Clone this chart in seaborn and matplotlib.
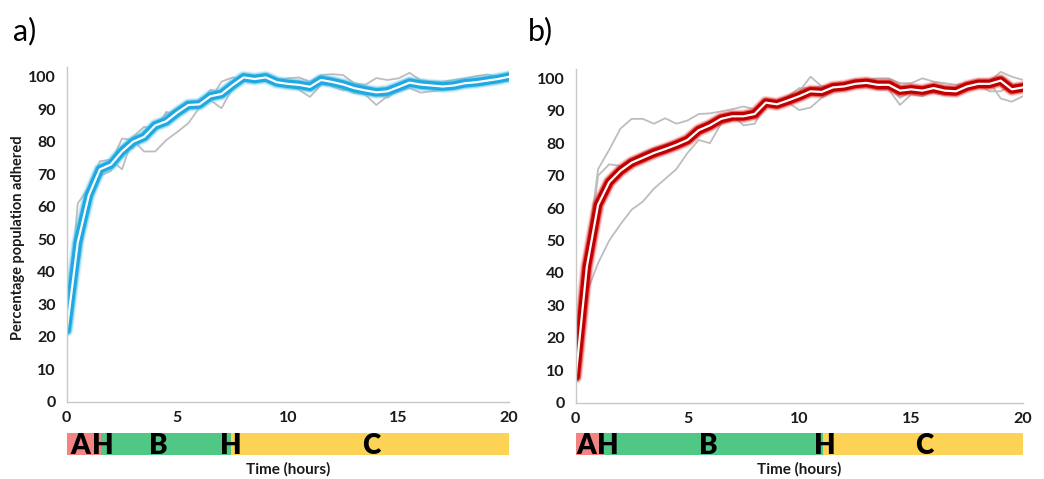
import numpy as np
import pandas as pd
import matplotlib
matplotlib.use("Agg")
import matplotlib.pyplot as plt
import seaborn as sns

# ---------------- data ----------------
time_h = np.arange(41) * 0.5  # sampling every 30 min, 0..20 h

blue_mean = [22, 49, 63.5, 71.5, 73, 77, 80, 81.5, 85, 86.3, 89, 91.3, 91.5, 94, 94.7,
             97.4, 99.8, 99.3, 99.8, 98.3, 97.8, 97.5, 96.9, 99, 98.4, 97.6, 96.5, 95.8,
             95.2, 95.5, 96.8, 98.2, 97.6, 97.3, 97, 97.3, 98, 98.3, 98.8, 99.3, 100]
blue_rep1 = [22, 61, 66, 74, 74.5, 71.5, 81.5, 84.6, 83.6, 89.2, 88, 91, 92.5, 93, 98.5,
             99.8, 99.2, 99.5, 100.2, 99, 99.5, 99.8, 98.5, 100.5, 100.8, 100.5, 98, 97.5,
             99.6, 99, 99.5, 101.2, 99, 98.5, 98.5, 99, 99.5, 100.2, 100.7, 100, 101]
blue_rep2 = [22, 45, 62, 71, 73.5, 81, 80.5, 77, 77, 80.5, 83, 85.7, 90.5, 92.8, 90.3,
             96.5, 99.5, 99, 100, 97.5, 97, 96, 93.8, 97.5, 97.5, 96.5, 95, 94.5, 91.3,
             94, 95.5, 96.5, 95.1, 95.5, 96, 96.5, 97, 97.5, 98, 98.5, 99]
blue_rep3 = [22, 41, 62.5, 69.5, 71, 78.5, 78, 83, 85, 88.5, 90, 91.5, 91.5, 96, 95,
             97, 100, 99.7, 99.5, 98.5, 97, 96.8, 98.5, 99, 97, 95.8, 96.5, 95.5, 94.6,
             93.5, 96, 97, 98.7, 98, 96.5, 96.5, 97.5, 97.4, 97.7, 99.4, 100]

red_mean = [8, 42, 61, 68, 71.5, 74, 75.5, 77, 78.2, 79.5, 81, 84, 85.5, 87.5, 88.3,
            88.3, 89, 92.5, 92, 93.2, 94.5, 96, 95.8, 97.2, 97.5, 98.3, 98.6, 98, 98,
            96.2, 96.6, 96.2, 97, 96.2, 96, 97.5, 98.3, 98.3, 99.3, 96.6, 97.2]
red_rep1 = [8, 45, 72, 78, 84.5, 87.5, 87.5, 86, 87.7, 86, 87, 89, 89.2, 89.8, 90.5,
            91.3, 90.5, 92.5, 91.5, 92.5, 96, 100.5, 97.5, 98, 98.5, 99.5, 99.5, 100, 100,
            98.5, 98.5, 100, 99, 98.5, 98, 98.5, 99, 99, 102, 100.5, 99.5]
red_rep2 = [8, 42, 70, 73.5, 73, 75, 77, 78.5, 79.5, 80.5, 81, 84, 85.5, 87.5, 88.8,
            85.5, 86, 92, 92.5, 94.5, 97, 97, 97.5, 97.5, 97, 98, 98.3, 97.5, 97.5,
            94, 96, 95.5, 95.5, 95, 95, 97, 98, 96, 96, 98, 98]
red_rep3 = [8, 34, 43, 50, 55, 59.5, 62, 66, 69, 72, 77, 81, 80, 86, 87,
            88, 89.5, 92, 91, 92.5, 90.2, 91, 94, 96, 96.8, 97.2, 97.8, 96.5, 96.5,
            91.8, 95, 94.5, 96, 95, 95, 97, 97.5, 99, 93.8, 92.8, 94.5]

x_ticks = [0, 5, 10, 15, 20]
y_ticks = [0, 10, 20, 30, 40, 50, 60, 70, 80, 90, 100]

phase_names = ["A", "B", "C"]
phase_colors = ["#F28482", "#50C784", "#FDD355"]
phases_a_start = [0, 1.55, 7.45]
phases_a_end = [1.55, 7.45, 20]
labels_a_pos = [0.6, 4.15, 13.75]
hmarks_a = [1.65, 7.42]
phases_b_start = [0, 1.25, 11.05]
phases_b_end = [1.25, 11.05, 20]
labels_b_pos = [0.47, 5.93, 15.6]
hmarks_b = [1.43, 11.12]

# ---------------- style ----------------
sns.set_style("white")
plt.rcParams["font.family"] = ["Lato", "DejaVu Sans"]
plt.rcParams["font.weight"] = "bold"

W, H = 1044, 479
fig = plt.figure(figsize=(W / 100, H / 100), dpi=100)


def fx(px):
    return px / W


def fy(py):
    return 1 - py / H


axL = fig.add_axes([fx(66.7), fy(401.7), fx(509 - 66.7), (401.7 - 67) / H])
axR = fig.add_axes([fx(575.7), fy(402.7), fx(1023 - 575.7), (402.7 - 68.6) / H])
barL = fig.add_axes([fx(66.7), fy(455), fx(509 - 66.7), 22 / H])
barR = fig.add_axes([fx(575.7), fy(455), fx(1023 - 575.7), 22 / H])

PT = 0.72  # px -> pt at 100 dpi


def draw_panel(ax, mean, reps, core, glow):
    df = pd.DataFrame({
        "time": np.concatenate([time_h] * len(reps)),
        "value": np.concatenate(reps),
        "rep": np.repeat(np.arange(len(reps)), len(time_h)),
    })
    sns.lineplot(data=df, x="time", y="value", units="rep", estimator=None,
                 color="#BDBDBD", lw=1.8 * PT, ax=ax, legend=False)
    for lw, a in [(14, 0.12), (12, 0.25), (10.5, 0.5)]:
        sns.lineplot(x=time_h, y=mean, color=glow, lw=lw * PT, alpha=a, ax=ax,
                     solid_capstyle="round", solid_joinstyle="round")
    sns.lineplot(x=time_h, y=mean, color=core, lw=8.5 * PT, ax=ax,
                 solid_capstyle="round", solid_joinstyle="round")
    sns.lineplot(x=time_h, y=mean, color="white", lw=2.2 * PT, ax=ax,
                 solid_joinstyle="round")
    ax.set_xlim(0, 20)
    ax.set_ylim(0, 103)
    ax.set_xticks(x_ticks)
    ax.set_yticks(y_ticks)
    ax.set_xlabel("")
    ax.set_ylabel("")
    sns.despine(ax=ax)
    for s in ["left", "bottom"]:
        ax.spines[s].set_color("#C8C8C8")
        ax.spines[s].set_linewidth(1.0)
    ax.tick_params(axis="both", direction="out", length=4, width=1,
                   color="#C8C8C8", labelsize=11.5, labelcolor="#1a1a1a", pad=3)
    ax.tick_params(axis="y", pad=4)
    for lbl in ax.get_xticklabels() + ax.get_yticklabels():
        lbl.set_fontweight("bold")
    ax.grid(False)


draw_panel(axL, blue_mean, [blue_rep1, blue_rep2, blue_rep3], "#1FA8E1", "#4FC3F0")
draw_panel(axR, red_mean, [red_rep1, red_rep2, red_rep3], "#C00000", "#E02020")


def draw_bar(ax, starts, ends, lpos, hmarks):
    widths = [e - s for s, e in zip(starts, ends)]
    ax.barh([0.5] * 3, widths, left=starts, height=1.0, color=phase_colors,
            edgecolor="none")
    ax.set_xlim(0, 20)
    ax.set_ylim(0, 1)
    ax.axis("off")
    for name, p in zip(phase_names, lpos):
        ax.text(p, 0.42, name, ha="center", va="center", fontsize=20,
                fontweight="heavy", color="black")
    for h in hmarks:
        ax.text(h, 0.42, "H", ha="center", va="center", fontsize=20,
                fontweight="heavy", color="black")
    ax.text(10, -0.66, "Time (hours)", ha="center", va="center", fontsize=11,
            fontweight="bold", color="#1a1a1a")


draw_bar(barL, phases_a_start, phases_a_end, labels_a_pos, hmarks_a)
draw_bar(barR, phases_b_start, phases_b_end, labels_b_pos, hmarks_b)

fig.text(fx(18), fy(238), "Percentage population adhered", rotation=90,
         ha="center", va="center", fontsize=10.5, fontweight="bold", color="#1a1a1a")
fig.text(fx(25), fy(31), "a)", ha="center", va="center", fontsize=22,
         fontweight="normal", color="black")
fig.text(fx(540), fy(31), "b)", ha="center", va="center", fontsize=22,
         fontweight="normal", color="black")

fig.savefig("out.png", dpi=100, facecolor="white")
